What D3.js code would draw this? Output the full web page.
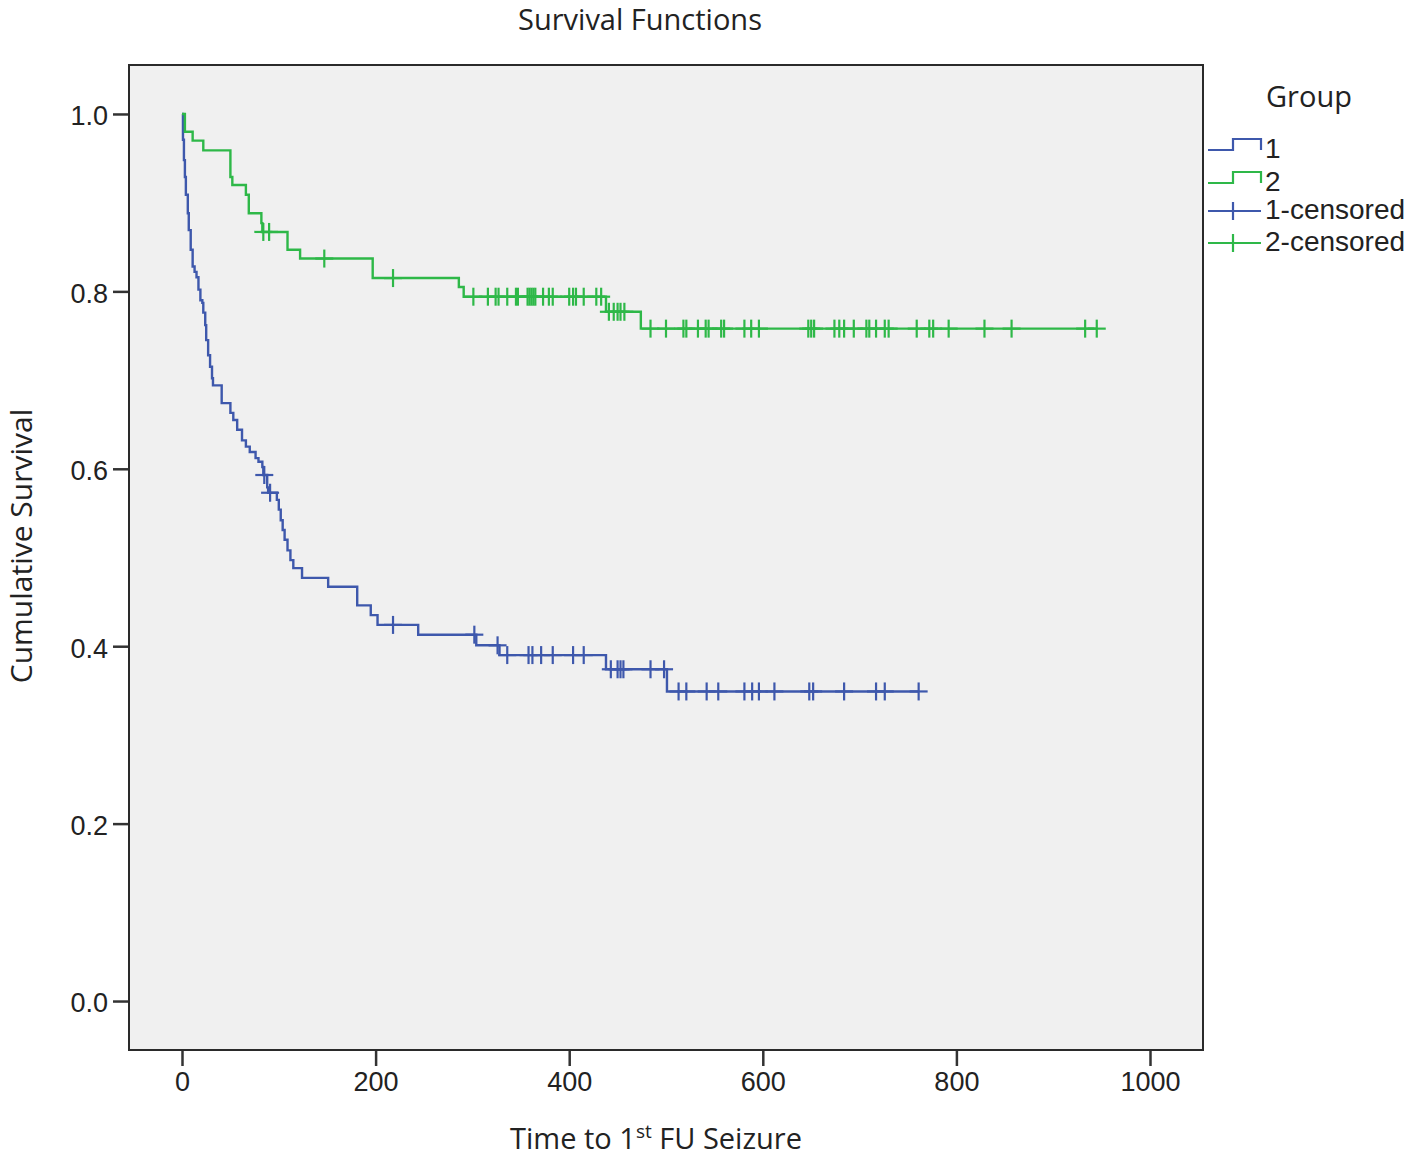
<!DOCTYPE html>
<html>
<head>
<meta charset="utf-8">
<script src="https://cdn.jsdelivr.net/npm/d3@7"></script>
<style>
  html, body { margin: 0; padding: 0; background: #ffffff; }
  svg { display: block; }
</style>
</head>
<body>
<script>
// ---------- Data ----------
const chartTitle = "Survival Functions";
const xTicks = [0, 200, 400, 600, 800, 1000];
const yTicks = [0.0, 0.2, 0.4, 0.6, 0.8, 1.0];
const groups = ["1", "2"];

// Group 1: event times and survival after each event
const g1Times = [1, 2, 3, 4, 6, 7, 9, 11, 13, 15, 17, 19, 21, 22, 24, 25, 27, 29, 31, 32,
  41, 50, 53, 57, 62, 66, 70, 76, 79, 83, 84, 88, 89, 98, 100, 102, 104, 106, 109, 112,
  115, 124, 151, 181, 195, 202, 244, 304, 328, 438, 501];
const g1Surv = [0.971, 0.948, 0.929, 0.909, 0.888, 0.869, 0.847, 0.828, 0.822, 0.816, 0.802,
  0.790, 0.787, 0.776, 0.762, 0.745, 0.728, 0.715, 0.702, 0.694, 0.674, 0.663, 0.655, 0.644,
  0.632, 0.625, 0.619, 0.612, 0.608, 0.602, 0.593, 0.579, 0.573, 0.565, 0.554, 0.542, 0.531,
  0.520, 0.508, 0.497, 0.488, 0.477, 0.467, 0.446, 0.435, 0.424, 0.413, 0.401, 0.390, 0.374, 0.349];
const g1Censored = [85, 91, 218, 302, 326, 336, 358, 362, 371, 383, 404, 415, 443, 450, 453, 456,
  484, 498, 513, 521, 542, 554, 581, 589, 596, 612, 648, 652, 684, 717, 726, 761];

// Group 2
const g2Times = [3, 11, 22, 50, 52, 66, 69, 82, 83, 109, 122, 197, 286, 291, 438, 474];
const g2Surv = [0.980, 0.970, 0.959, 0.929, 0.920, 0.909, 0.888, 0.877, 0.867, 0.847, 0.837,
  0.815, 0.805, 0.794, 0.777, 0.758];
const g2Censored = [84, 90, 147, 218, 301, 316, 324, 327, 336, 345, 347, 357, 359, 361, 363, 365,
  373, 379, 383, 400, 404, 407, 415, 428, 433, 441, 446, 450, 453, 457, 484, 500, 518, 521, 533,
  541, 544, 557, 560, 581, 588, 596, 647, 650, 653, 674, 679, 684, 694, 707, 710, 717, 726, 730,
  759, 772, 776, 792, 829, 857, 933, 945];

const legendLabels = ["1", "2", "1-censored", "2-censored"];
const colors = ["#3E58AC", "#2EB848"];

// ---------- Layout ----------
const W = 1418, H = 1157;
const plot = { left: 129, top: 65, right: 1203, bottom: 1050 };

const svg = d3.select("body").append("svg")
  .attr("width", W).attr("height", H)
  .attr("viewBox", `0 0 ${W} ${H}`);

svg.append("rect").attr("width", W).attr("height", H).attr("fill", "#ffffff");

const x = d3.scaleLinear().domain([-54.75, 1054.75]).range([plot.left, plot.right]);
const y = d3.scaleLinear().domain([-0.0552, 1.0552]).range([plot.bottom, plot.top]);

// Plot background
svg.append("rect")
  .attr("x", plot.left).attr("y", plot.top)
  .attr("width", plot.right - plot.left).attr("height", plot.bottom - plot.top)
  .attr("fill", "#f0f0f0");

// Axes
const yAxis = d3.axisLeft(y).tickValues(yTicks).tickSize(16).tickPadding(5)
  .tickFormat(d3.format(".1f"));
const xAxis = d3.axisBottom(x).tickValues(xTicks).tickSize(16).tickPadding(6)
  .tickFormat(d3.format("d"));

const gy = svg.append("g").attr("transform", `translate(${plot.left},0)`).call(yAxis);
const gx = svg.append("g").attr("transform", `translate(0,${plot.bottom})`).call(xAxis);
[gx, gy].forEach(g => {
  g.attr("font-family", null).attr("font-size", null);
  g.select(".domain").remove();
  g.selectAll(".tick line").attr("stroke", "#333333").attr("stroke-width", 2.5);
  g.selectAll(".tick text")
    .attr("fill", "#222222")
    .attr("font-family", "Liberation Sans, Arial, sans-serif")
    .attr("font-size", "27px");
});
gy.selectAll(".tick text").attr("dy", "0.4em");

// Frame
svg.append("rect")
  .attr("x", plot.left).attr("y", plot.top)
  .attr("width", plot.right - plot.left).attr("height", plot.bottom - plot.top)
  .attr("fill", "none").attr("stroke", "#2a2a2a").attr("stroke-width", 2);

// ---------- Curves ----------
function survAt(times, surv, t) {
  let s = 1;
  for (let i = 0; i < times.length; i++) { if (times[i] <= t) s = surv[i]; else break; }
  return s;
}

const series = [
  { times: g1Times, surv: g1Surv, cens: g1Censored, color: colors[0] },
  { times: g2Times, surv: g2Surv, cens: g2Censored, color: colors[1] }
];

const line = d3.line().x(d => x(d[0])).y(d => y(d[1])).curve(d3.curveStepAfter);
const armPx = 9;

series.forEach(sr => {
  const pts = [[0, 1]];
  sr.times.forEach((t, i) => pts.push([t, sr.surv[i]]));
  const end = Math.max(d3.max(sr.times), d3.max(sr.cens));
  pts.push([end, sr.surv[sr.surv.length - 1]]);
  svg.append("path").datum(pts)
    .attr("d", line)
    .attr("fill", "none").attr("stroke", sr.color).attr("stroke-width", 2.4);

  const g = svg.append("g").attr("stroke", sr.color).attr("stroke-width", 2.2);
  const marks = g.selectAll("g.c").data(sr.cens).join("g").attr("class", "c");
  marks.append("line")
    .attr("x1", d => x(d) - armPx).attr("x2", d => x(d) + armPx)
    .attr("y1", d => y(survAt(sr.times, sr.surv, d)))
    .attr("y2", d => y(survAt(sr.times, sr.surv, d)));
  marks.append("line")
    .attr("x1", d => x(d)).attr("x2", d => x(d))
    .attr("y1", d => y(survAt(sr.times, sr.surv, d)) - armPx)
    .attr("y2", d => y(survAt(sr.times, sr.surv, d)) + armPx);
});

// ---------- Titles ----------
svg.append("text")
  .attr("x", 640).attr("y", 30).attr("text-anchor", "middle")
  .attr("font-family", "Open Sans, sans-serif").attr("font-size", "29px")
  .attr("fill", "#222222").text(chartTitle);

const xt = svg.append("text")
  .attr("x", 656).attr("y", 1149).attr("text-anchor", "middle")
  .attr("font-family", "Open Sans, sans-serif").attr("font-size", "29px")
  .attr("fill", "#222222");
xt.append("tspan").text("Time to 1");
xt.append("tspan").attr("dy", -11).attr("font-size", "19px").text("st");
xt.append("tspan").attr("dy", 11).text(" FU Seizure");

svg.append("text")
  .attr("transform", "translate(32,546) rotate(-90)")
  .attr("text-anchor", "middle")
  .attr("font-family", "Open Sans, sans-serif").attr("font-size", "30px")
  .attr("fill", "#222222").text("Cumulative Survival");

// ---------- Legend ----------
const lg = svg.append("g");
lg.append("text").attr("x", 1266).attr("y", 107)
  .attr("font-family", "Open Sans, sans-serif").attr("font-size", "29px")
  .attr("fill", "#222222").text("Group");

const legendRows = [
  { label: legendLabels[0], color: colors[0], type: "step", yb: 150 },
  { label: legendLabels[1], color: colors[1], type: "step", yb: 183 },
  { label: legendLabels[2], color: colors[0], type: "cens", yb: 211 },
  { label: legendLabels[3], color: colors[1], type: "cens", yb: 243 }
];
legendRows.forEach(r => {
  if (r.type === "step") {
    lg.append("path")
      .attr("d", `M1208,${r.yb} H1233 V${r.yb - 11} H1261 V${r.yb}`)
      .attr("fill", "none").attr("stroke", r.color).attr("stroke-width", 2.2);
  } else {
    lg.append("path")
      .attr("d", `M1208,${r.yb} H1261 M1233,${r.yb - 9} V${r.yb + 9}`)
      .attr("fill", "none").attr("stroke", r.color).attr("stroke-width", 2.2);
  }
  lg.append("text").attr("x", 1265).attr("y", r.yb + 8)
    .attr("font-family", "Liberation Sans, Arial, sans-serif").attr("font-size", "28px")
    .attr("fill", "#222222").text(r.label);
});
</script>
</body>
</html>
